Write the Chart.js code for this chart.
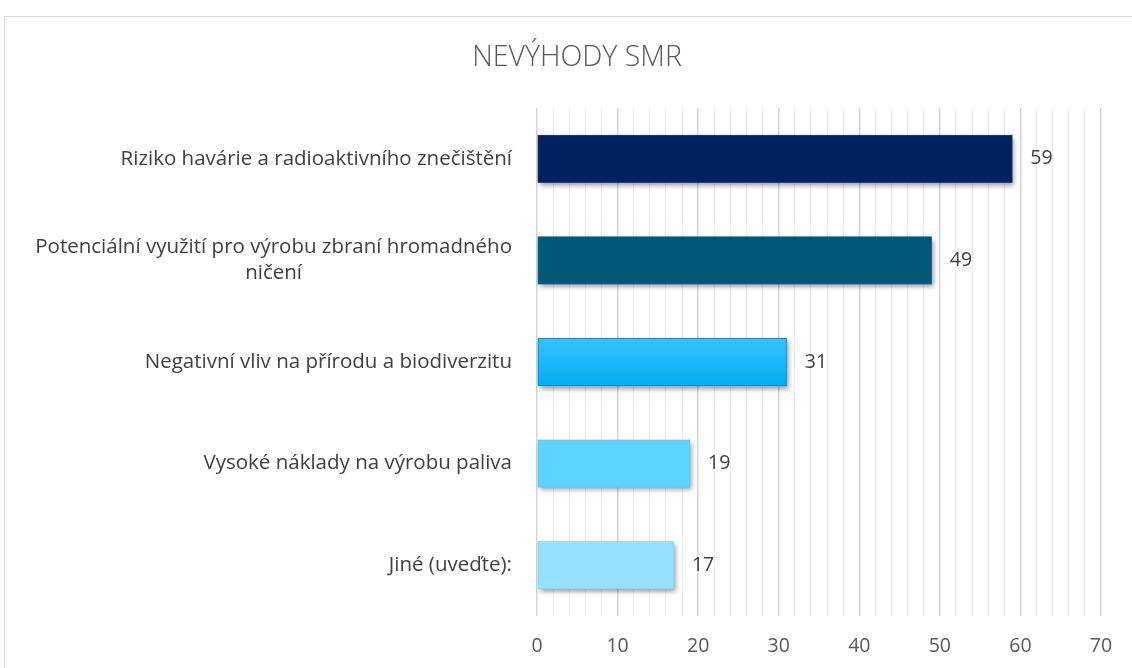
<!DOCTYPE html>
<html>
<head>
<meta charset="utf-8">
<script src="https://cdn.jsdelivr.net/npm/chart.js@4.4.1/dist/chart.umd.min.js"></script>
<style>
  html, body { margin: 0; padding: 0; background: #fff; overflow: hidden; }
</style>
</head>
<body>
<canvas id="barChart" width="1132" height="668"></canvas>
<script>
// data
var chartTitle = "NEVÝHODY SMR";
var categories = [
    ["Riziko havárie a radioaktivního znečištění"],
    ["Potenciální využití pro výrobu zbraní hromadného", "ničení"],
    ["Negativní vliv na přírodu a biodiverzitu"],
    ["Vysoké náklady na výrobu paliva"],
    ["Jiné (uveďte):"]
];
var values = [59, 49, 31, 19, 17];
var barColors = ["#002060", "#005878", "#00B0F0", "#5CD4FF", "#94E2FF"];
var barBorders = ["#1b3a72", "#156a88", "#0092cc", "#55c8f2", "#8bd7f2"];
var xTicks = [0, 10, 20, 30, 40, 50, 60, 70];

var labelFont = '20.5px "Open Sans"';
var textColor = "#404040";

// frame, title, shadows, data labels and category labels
var decorPlugin = {
    id: "decor",
    beforeDraw: function (chart) {
        var c = chart.ctx;
        c.save();
        c.fillStyle = "#fff";
        c.fillRect(0, 0, chart.width, chart.height);
        c.strokeStyle = "#d9d9d9";
        c.lineWidth = 1;
        c.strokeRect(4.5, 16.5, chart.width + 20, chart.height + 20);
        c.font = '300 28.5px "Open Sans"';
        c.fillStyle = "#595959";
        c.textAlign = "center";
        c.textBaseline = "middle";
        c.fillText(chartTitle, 577, 58);
        c.restore();
    },
    beforeDatasetsDraw: function (chart) {
        // Chart.js clips bars with borders, so the drop shadow is drawn underneath first
        var c = chart.ctx;
        c.save();
        c.shadowColor = "rgba(0,0,0,0.4)";
        c.shadowBlur = 5;
        c.shadowOffsetX = 2;
        c.shadowOffsetY = 3;
        chart.getDatasetMeta(0).data.forEach(function (bar, i) {
            c.fillStyle = barColors[i];
            c.fillRect(bar.base, bar.y - bar.height / 2, bar.x - bar.base, bar.height);
        });
        c.restore();
    },
    afterDatasetsDraw: function (chart) {
        var c = chart.ctx;
        c.save();
        c.font = '19.5px "Open Sans"';
        c.fillStyle = textColor;
        c.textAlign = "left";
        c.textBaseline = "middle";
        chart.getDatasetMeta(0).data.forEach(function (bar, i) {
            c.fillText(values[i], bar.x + 18, bar.y);
        });
        // category labels, block right-aligned, lines centred in block
        var y = chart.scales.y;
        c.font = labelFont;
        var right = y.right - 25;
        categories.forEach(function (lines, i) {
            var w = 0;
            lines.forEach(function (l) { w = Math.max(w, c.measureText(l).width); });
            var cx = right - w / 2;
            var lh = 26;
            var top = y.getPixelForValue(i) - (lines.length - 1) * lh / 2;
            c.textAlign = "center";
            lines.forEach(function (l, k) {
                c.fillText(l, cx, top + k * lh);
            });
        });
        c.restore();
    }
};

var ctx = document.getElementById("barChart").getContext("2d");
var myBarChart = new Chart(ctx, {
    type: "bar",
    data: {
        labels: categories,
        datasets: [
            {
                label: chartTitle,
                data: values,
                backgroundColor: function (context) {
                    var chart = context.chart;
                    if (context.dataIndex === 2 && chart.scales.y) {
                        var yc = chart.scales.y.getPixelForValue(2);
                        var g = chart.ctx.createLinearGradient(0, yc - 24, 0, yc + 24);
                        g.addColorStop(0, "#38c2ff");
                        g.addColorStop(1, "#00aef0");
                        return g;
                    }
                    return barColors[context.dataIndex];
                },
                borderColor: barBorders,
                borderWidth: 1,
                borderSkipped: false,
                categoryPercentage: 1,
                barPercentage: 0.47
            }
        ]
    },
    options: {
        indexAxis: "y",
        responsive: false,
        animation: false,
        layout: { padding: { left: 0, right: 31, top: 108, bottom: 0 } },
        plugins: {
            legend: { display: false },
            tooltip: { enabled: false },
            title: { display: false }
        },
        scales: {
            x: {
                min: 0,
                max: 70,
                ticks: {
                    stepSize: 2,
                    autoSkip: false,
                    maxRotation: 0,
                    padding: 19,
                    color: "#595959",
                    font: { family: "Open Sans", size: 19.5 },
                    callback: function (v) { return xTicks.indexOf(v) >= 0 ? v : ""; }
                },
                grid: {
                    drawTicks: false,
                    color: function (c) {
                        return c.tick && c.tick.value % 10 === 0 ? "#d4d4d4" : "#ececec";
                    },
                    lineWidth: function (c) {
                        return c.tick && c.tick.value % 10 === 0 ? 1.5 : 1;
                    }
                },
                border: { display: false },
                afterFit: function (scale) { scale.height = 52; }
            },
            y: {
                ticks: { display: false },
                grid: { display: false },
                border: { display: false },
                afterFit: function (scale) { scale.width = 537; }
            }
        }
    },
    plugins: [decorPlugin]
});
</script>
</body>
</html>
